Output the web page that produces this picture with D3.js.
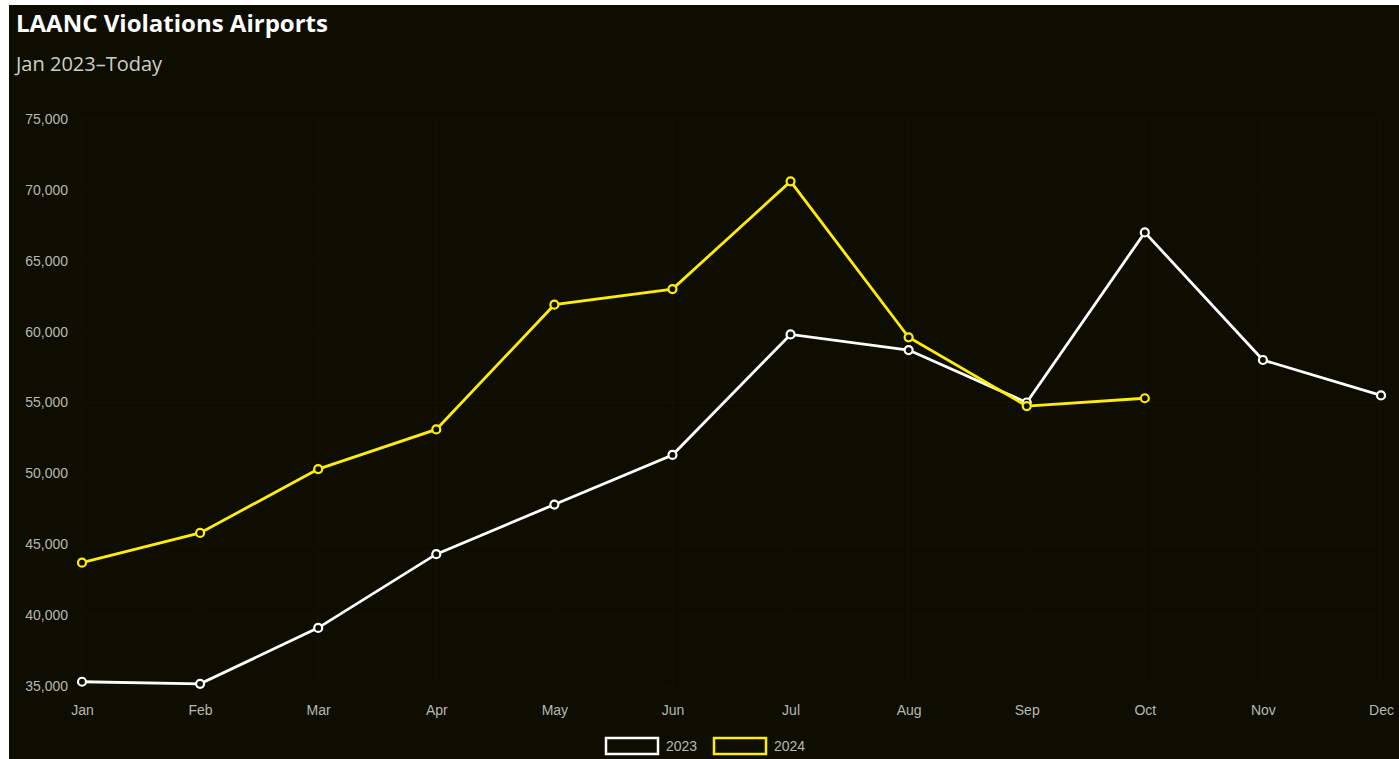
<!DOCTYPE html>
<html>
<head>
<meta charset="utf-8">
<script src="https://cdn.jsdelivr.net/npm/d3@7"></script>
<style>
  html, body { margin: 0; padding: 0; background: #fff; }
  svg { display: block; }
</style>
</head>
<body>
<script>
// data
var months = ['Jan', 'Feb', 'Mar', 'Apr', 'May', 'Jun', 'Jul', 'Aug', 'Sep', 'Oct', 'Nov', 'Dec'];
var values2023 = [35300, 35150, 39100, 44300, 47800, 51300, 59800, 58700, 55000, 67000, 58000, 55500];
var values2024 = [43700, 45800, 50300, 53100, 61900, 63000, 70600, 59600, 54750, 55300];
var yTicks = [35000, 40000, 45000, 50000, 55000, 60000, 65000, 70000, 75000];
var seriesNames = ['2023', '2024'];
var seriesColors = ['#ffffff', '#ffee00'];

var W = 1399, H = 759;
var svg = d3.select('body').append('svg')
    .attr('width', W)
    .attr('height', H);

// dark panel
svg.append('rect')
    .attr('x', 9).attr('y', 5)
    .attr('width', W - 9).attr('height', H - 5)
    .attr('fill', '#0d0d01');

var x = d3.scalePoint().domain(months).range([82, 1381]);
var y = d3.scaleLinear().domain([35000, 75000]).range([686, 119]);

// faint grid
svg.append('g').selectAll('line')
    .data(months).enter().append('line')
    .attr('x1', function (d) { return x(d); })
    .attr('x2', function (d) { return x(d); })
    .attr('y1', y(75000)).attr('y2', y(35000))
    .attr('stroke', '#121205').attr('stroke-width', 1);
svg.append('g').selectAll('line')
    .data(yTicks).enter().append('line')
    .attr('x1', x('Jan')).attr('x2', x('Dec'))
    .attr('y1', function (d) { return y(d); })
    .attr('y2', function (d) { return y(d); })
    .attr('stroke', '#121205').attr('stroke-width', 1);

// axes
var yAxis = svg.append('g')
    .attr('transform', 'translate(68,0)')
    .call(d3.axisLeft(y).tickValues(yTicks).tickSize(0).tickPadding(0).tickFormat(d3.format(',')));
var xAxis = svg.append('g')
    .attr('transform', 'translate(0,' + 700 + ')')
    .call(d3.axisBottom(x).tickSize(0).tickPadding(5));
[yAxis, xAxis].forEach(function (a) {
    a.select('.domain').remove();
    a.selectAll('text')
        .attr('fill', '#b8b8b0')
        .style('font-family', '"Liberation Sans", Arial, sans-serif')
        .style('font-size', '14px');
});

// lines
var line = d3.line()
    .x(function (d, i) { return x(months[i]); })
    .y(function (d) { return y(d); });

[values2023, values2024].forEach(function (vals, k) {
    svg.append('path')
        .datum(vals)
        .attr('d', line)
        .attr('fill', 'none')
        .attr('stroke', seriesColors[k])
        .attr('stroke-width', 2.8);
    svg.append('g').selectAll('circle')
        .data(vals).enter().append('circle')
        .attr('cx', function (d, i) { return x(months[i]); })
        .attr('cy', function (d) { return y(d); })
        .attr('r', 4)
        .attr('fill', '#0d0d01')
        .attr('stroke', seriesColors[k])
        .attr('stroke-width', 2.2);
});

// titles
svg.append('text')
    .attr('x', 16).attr('y', 32)
    .text('LAANC Violations Airports')
    .attr('fill', '#ffffff')
    .style('font-family', '"Open Sans", sans-serif')
    .style('font-weight', 'bold')
    .style('font-size', '24px')
    .style('letter-spacing', '0px');
svg.append('text')
    .attr('x', 16).attr('y', 71)
    .text('Jan 2023\u2013Today')
    .attr('fill', '#cfcfc8')
    .style('font-family', '"Open Sans", sans-serif')
    .style('font-size', '20px');

// legend
var legend = svg.append('g').selectAll('g')
    .data(seriesNames).enter().append('g')
    .attr('transform', function (d, i) { return 'translate(' + (606 + i * 108) + ',738)'; });
legend.append('rect')
    .attr('width', 52).attr('height', 16)
    .attr('fill', '#0d0d01')
    .attr('stroke', function (d, i) { return seriesColors[i]; })
    .attr('stroke-width', 2.5);
legend.append('text')
    .attr('x', 60).attr('y', 13)
    .text(function (d) { return d; })
    .attr('fill', '#b8b8b0')
    .style('font-family', '"Liberation Sans", Arial, sans-serif')
    .style('font-size', '14px');
</script>
</body>
</html>
